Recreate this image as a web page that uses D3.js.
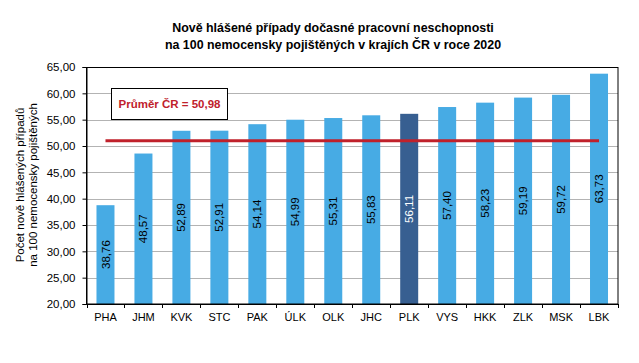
<!DOCTYPE html>
<meta charset="utf-8">
<style>
body { margin: 0; background: #fff; }
svg { font-family: "Liberation Sans", Arial, sans-serif; }
.grid line { stroke: #b3b3b3; stroke-width: 1px; }
</style>
<body>
<svg width="639" height="363"></svg>
<script src="https://cdn.jsdelivr.net/npm/d3@7/dist/d3.min.js"></script>
<script>

// data
var regions = ["PHA","JHM","KVK","STC","PAK","ÚLK","OLK","JHC","PLK","VYS","HKK","ZLK","MSK","LBK"];
var values = [38.76,48.57,52.89,52.91,54.14,54.99,55.31,55.83,56.11,57.40,58.23,59.19,59.72,63.73];
var highlight = ["PLK"];
var average = 50.98;
var yTicks = [20,25,30,35,40,45,50,55,60,65];
var titleLines = ["Nově hlášené případy dočasné pracovní neschopnosti",
                  "na 100 nemocensky pojištěných v krajích ČR v roce 2020"];
var yLabelLines = ["Počet nově hlášených případů", "na 100 nemocensky pojištěných"];

var svg = d3.select("svg");
var plotL = 86.5, plotR = 618, plotT = 67, plotB = 304;

var fmt = function(v) { return d3.format(".2f")(v).replace(".", ","); };

var x = d3.scaleBand().domain(regions).range([plotL, plotR]).paddingInner(0.526).paddingOuter(0.263);
var y = d3.scaleLinear().domain([20, 65]).range([plotB, plotT]);

// title (condensed look)
svg.append("g")
    .attr("transform", "translate(333,0) scale(0.92,1)")
  .selectAll("text")
    .data(titleLines)
  .enter().append("text")
    .attr("x", 0)
    .attr("y", function(d, i) { return 32 + i * 17; })
    .attr("text-anchor", "middle")
    .style("font-size", "13.5px")
    .style("font-weight", "bold")
    .text(function(d) { return d; });

// gridlines
svg.append("g").attr("class", "grid")
  .selectAll("line")
    .data(yTicks.slice(1, -1))
  .enter().append("line")
    .attr("x1", plotL).attr("x2", plotR)
    .attr("y1", function(d) { return Math.round(y(d)) + 0.5; })
    .attr("y2", function(d) { return Math.round(y(d)) + 0.5; });

// bars
svg.append("g").selectAll("rect")
    .data(regions)
  .enter().append("rect")
    .attr("x", function(d) { return x(d); })
    .attr("width", x.bandwidth())
    .attr("y", function(d, i) { return y(values[i]); })
    .attr("height", function(d, i) { return plotB - y(values[i]); })
    .attr("fill", function(d) { return highlight.indexOf(d) >= 0 ? "#375f91" : "#47abe4"; });

// value labels
svg.append("g").selectAll("text")
    .data(regions)
  .enter().append("text")
    .attr("transform", function(d, i) {
      var cx = x(d) + x.bandwidth() / 2;
      var cy = (y(values[i]) + plotB) / 2;
      return "translate(" + cx + "," + cy + ") rotate(-90)";
    })
    .attr("text-anchor", "middle")
    .attr("dy", "0.35em")
    .style("font-size", "11.5px")
    .attr("fill", function(d) { return highlight.indexOf(d) >= 0 ? "#fff" : "#000"; })
    .text(function(d, i) { return fmt(values[i]); });

// average line
svg.append("line")
    .attr("x1", x(regions[0]) + x.bandwidth() / 2)
    .attr("x2", x(regions[regions.length - 1]) + x.bandwidth() / 2)
    .attr("y1", y(average)).attr("y2", y(average))
    .attr("stroke", "#c0212b")
    .attr("stroke-width", 3);

// plot frame
svg.append("rect")
    .attr("x", plotL).attr("y", plotT + 0.5)
    .attr("width", plotR - plotL).attr("height", plotB - plotT)
    .attr("fill", "none").attr("stroke", "#000").attr("stroke-width", 1);

// y axis
var yAxis = svg.append("g")
    .attr("transform", "translate(" + plotL + ",0)")
    .call(d3.axisLeft(y).tickValues(yTicks).tickSize(4).tickPadding(7).tickFormat(fmt));
yAxis.selectAll("text").style("font-size", "11.5px").attr("fill", "#000").style("font-family", "'Liberation Sans', Arial, sans-serif");
yAxis.selectAll("line, path").attr("stroke", "#000");

// x axis: ticks at band boundaries
var xAxis = svg.append("g").attr("transform", "translate(0," + plotB + ")");
xAxis.append("line").attr("x1", plotL).attr("x2", plotR).attr("stroke", "#000");
var step = x.step();
xAxis.selectAll(".tk")
    .data(d3.range(regions.length + 1))
  .enter().append("line")
    .attr("x1", function(i) { return Math.round(plotL + i * step) + 0.5; })
    .attr("x2", function(i) { return Math.round(plotL + i * step) + 0.5; })
    .attr("y1", 0).attr("y2", 4)
    .attr("stroke", "#000");
xAxis.selectAll("text")
    .data(regions)
  .enter().append("text")
    .attr("x", function(d) { return x(d) + x.bandwidth() / 2; })
    .attr("y", 17)
    .attr("text-anchor", "middle")
    .style("font-size", "11px")
    .attr("fill", "#000")
    .text(function(d) { return d; });

// y label
svg.append("g")
    .attr("transform", "translate(24,185) rotate(-90)")
  .selectAll("text")
    .data(yLabelLines)
  .enter().append("text")
    .attr("x", 0)
    .attr("y", function(d, i) { return i * 13; })
    .attr("text-anchor", "middle")
    .style("font-size", "11.5px")
    .text(function(d) { return d; });

// legend box
var lg = svg.append("g");
lg.append("rect")
    .attr("x", 111.5).attr("y", 88.5).attr("width", 116).attr("height", 31)
    .attr("fill", "#fff").attr("stroke", "#000");
lg.append("text")
    .attr("x", 169.5).attr("y", 107.5)
    .attr("text-anchor", "middle")
    .attr("fill", "#c0212b")
    .style("font-size", "11.5px")
    .style("font-weight", "bold")
    .text("Průměr ČR = " + fmt(average));

</script>
